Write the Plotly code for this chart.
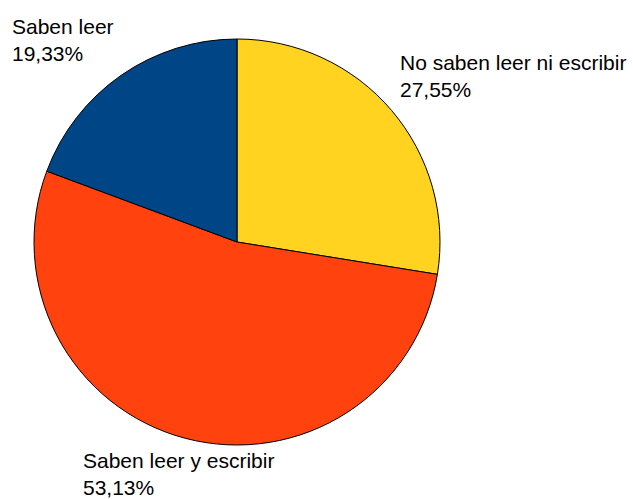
import plotly.graph_objects as go

labels = ['No saben leer ni escribir', 'Saben leer y escribir', 'Saben leer']
values = [27.55, 53.13, 19.33]
pct_text = ['27,55%', '53,13%', '19,33%']
colors = ['#FFD320', '#FF420E', '#004586']

W, H = 633, 499
cx, cy, r = 237, 242, 203

fig = go.Figure(go.Pie(
	labels=labels, values=values, sort=False, direction='clockwise', rotation=0,
	marker=dict(colors=colors, line=dict(color='black', width=1)),
	textinfo='none', hoverinfo='label+percent',
	domain=dict(x=[(cx - r) / W, (cx + r) / W], y=[1 - (cy + r) / H, 1 - (cy - r) / H]),
))

# label positions (px, top-left of text block)
label_pos = [(398, 48.5), (81, 447), (9.7, 13)]
for (x, y), name, pct in zip(label_pos, labels, pct_text):
	fig.add_annotation(
		x=x / W, y=1 - y / H, xref='paper', yref='paper',
		xanchor='left', yanchor='top', align='left', showarrow=False,
		text=f'{name}<br>{pct}',
		font=dict(family='Liberation Sans, Arial, sans-serif', size=21, color='black'),
	)

fig.update_layout(
	width=W, height=H, margin=dict(l=0, r=0, t=0, b=0),
	showlegend=False, paper_bgcolor='white', plot_bgcolor='white',
)
# drop the default page margin so the figure fills the window
fig.write_html('out.html', config={'displayModeBar': False},
	post_script="document.body.style.margin='0';document.body.style.overflow='hidden';")
